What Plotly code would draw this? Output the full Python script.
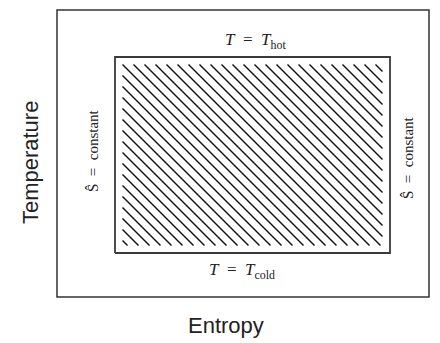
import plotly.graph_objects as go
import numpy as np

# Schematic values (arbitrary units, 1 unit ~ 10 px)
entropy_range = [0.0, 37.2]
temperature_range = [0.0, 28.7]
S_low, S_high = 5.8, 33.3        # isentropic sides
T_cold, T_hot = 4.4, 24.0        # isothermal sides
labels = {
    "hot": "<i>T</i>&nbsp;&nbsp;=&nbsp;&nbsp;<i>T</i><sub>hot</sub>",
    "cold": "<i>T</i>&nbsp;&nbsp;=&nbsp;&nbsp;<i>T</i><sub>cold</sub>",
    "s": "Ŝ&nbsp;&nbsp;=&nbsp;&nbsp;constant",
}
x_title = "Entropy"
y_title = "Temperature"

# hatch style
inset = 0.75
spacing = 1.1

fig = go.Figure()

# hatching (lines x + y = c, clipped to inset rectangle)
xa, xb = S_low + inset, S_high - inset
ya, yb = T_cold + inset, T_hot - inset
c0 = xa + yb
cmin, cmax = xa + ya, xb + yb
kmin = int(np.ceil((cmin - c0) / spacing))
kmax = int(np.floor((cmax - c0) / spacing))
hx, hy = [], []
for k in range(kmin, kmax + 1):
    c = c0 + k * spacing
    x1 = max(xa, c - yb)
    x2 = min(xb, c - ya)
    if x2 - x1 < 1e-9:
        continue
    hx += [x1, x2, None]
    hy += [c - x1, c - x2, None]
fig.add_trace(go.Scatter(x=hx, y=hy, mode="lines",
                         line=dict(color="#111111", width=1.4),
                         hoverinfo="skip", showlegend=False))

# inner cycle rectangle
fig.add_trace(go.Scatter(x=[S_low, S_high, S_high, S_low, S_low],
                         y=[T_cold, T_cold, T_hot, T_hot, T_cold],
                         mode="lines", line=dict(color="#3a3a3a", width=1.8),
                         hoverinfo="skip", showlegend=False))

serif = "Liberation Serif, DejaVu Serif, serif"
sans = "Liberation Sans, Arial, sans-serif"

fig.add_annotation(x=(S_low + S_high) / 2 + 0.25, y=T_hot, yshift=16, text=labels["hot"],
                   showarrow=False, xanchor="center", yanchor="middle",
                   font=dict(family=serif, size=17, color="#222"))
fig.add_annotation(x=(S_low + S_high) / 2 - 1.05, y=T_cold, yshift=-18, text=labels["cold"],
                   showarrow=False, xanchor="center", yanchor="middle",
                   font=dict(family=serif, size=17, color="#222"))
fig.add_annotation(x=S_low, xshift=-22, y=(T_cold + T_hot) / 2 + 0.4, text=labels["s"], textangle=-90,
                   showarrow=False, xanchor="center", yanchor="middle",
                   font=dict(family=serif, size=15, color="#222"))
fig.add_annotation(x=S_high, xshift=18, y=(T_cold + T_hot) / 2 - 0.3, text=labels["s"], textangle=-90,
                   showarrow=False, xanchor="center", yanchor="middle",
                   font=dict(family=serif, size=15, color="#222"))

# axis titles as annotations placed like the reference
fig.add_annotation(xref="paper", yref="paper", x=-0.0726, y=0.47, text=y_title, textangle=-90,
                   showarrow=False, xanchor="center", yanchor="middle",
                   font=dict(family=sans, size=22, color="#222"))
fig.add_annotation(xref="paper", yref="paper", x=0.454, y=-0.0976, text=x_title,
                   showarrow=False, xanchor="center", yanchor="middle",
                   font=dict(family=sans, size=22, color="#222"))

# outer frame
shapes = [dict(type="rect", xref="paper", yref="paper", x0=0, y0=0, x1=1, y1=1,
               line=dict(color="#333333", width=1.5), layer="above")]

W, H = 440, 343
l, t, pw, ph = 49, 2, 372, 287

fig.update_layout(
    width=W, height=H,
    margin=dict(l=l, r=W - l - pw, t=t, b=H - t - ph),
    paper_bgcolor="white", plot_bgcolor="white",
    shapes=shapes,
    xaxis=dict(range=entropy_range, visible=False, fixedrange=True),
    yaxis=dict(range=temperature_range, visible=False, fixedrange=True),
    showlegend=False,
)

fig.write_html("out.html")
